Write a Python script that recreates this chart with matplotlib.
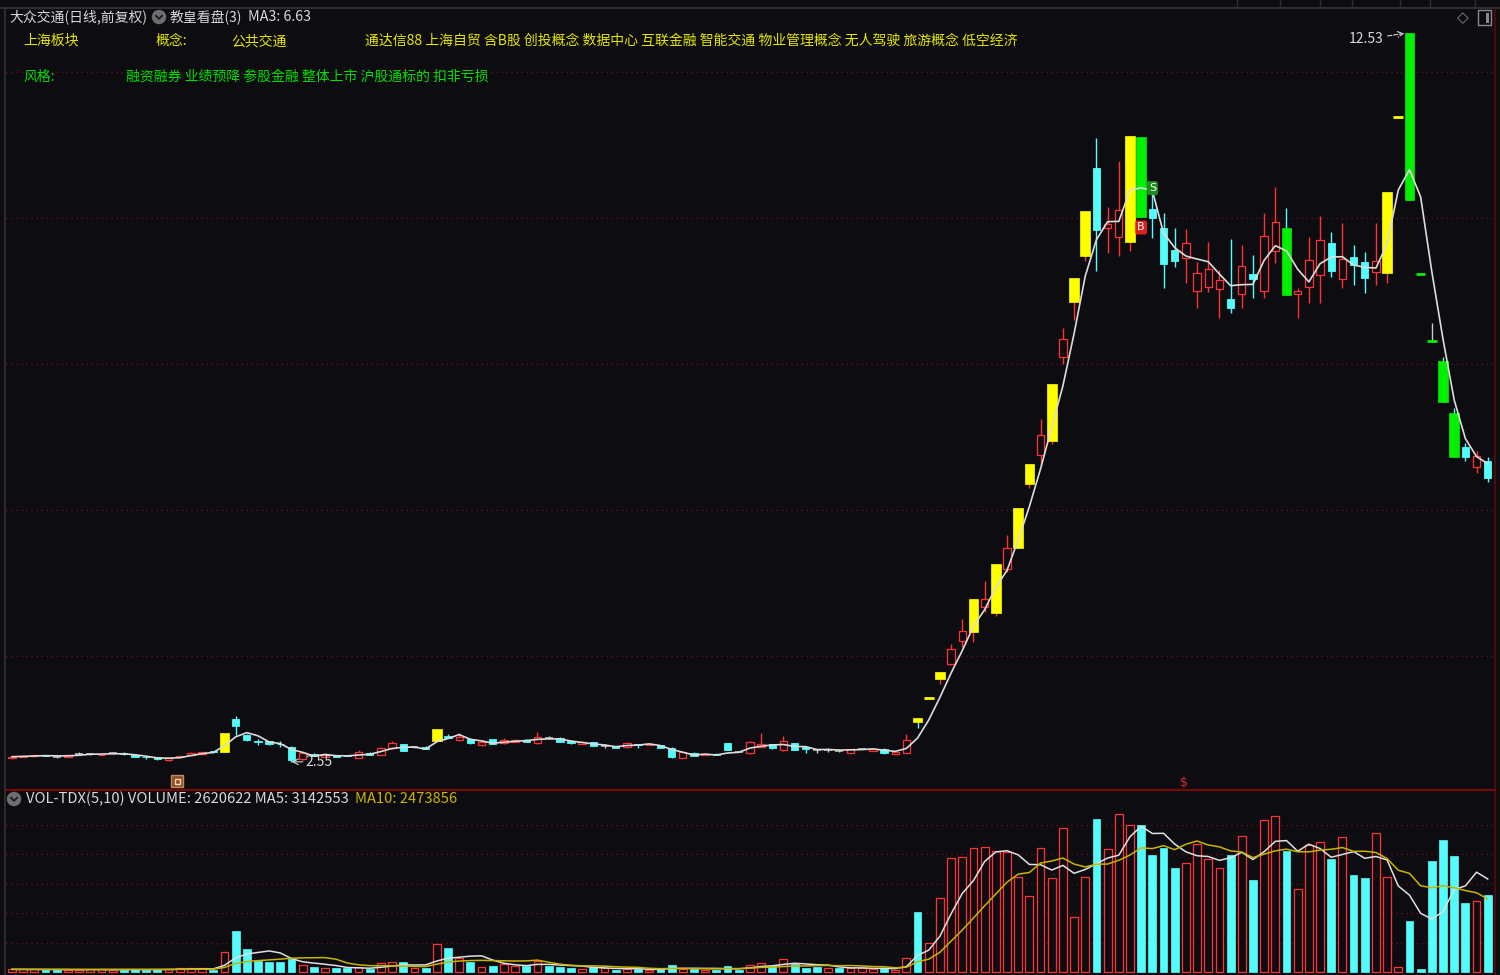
import numpy as np
import pandas as pd
import matplotlib
matplotlib.use('Agg')
import matplotlib.pyplot as plt
from matplotlib.patches import Rectangle, Circle, FancyBboxPatch

plt.rcParams['font.family'] = ['Noto Sans CJK SC', 'DejaVu Sans']

# ---- data (daily bars, oldest first) ----
opens = [
    2.60, 2.61, 2.63, 2.645, 2.62, 2.62, 2.66, 2.66, 2.64, 2.67,
    2.67, 2.64, 2.62, 2.61, 2.57, 2.61, 2.64, 2.66, 2.70, 2.68,
    3.13, 2.92, 2.83, 2.835, 2.80, 2.757, 2.585, 2.66, 2.62, 2.645,
    2.64, 2.607, 2.67, 2.644, 2.736, 2.79, 2.75, 2.753, 2.835, 2.908,
    2.845, 2.859, 2.78, 2.859, 2.808, 2.82, 2.849, 2.808, 2.873, 2.88,
    2.84, 2.795, 2.817, 2.763, 2.763, 2.749, 2.79, 2.78, 2.78, 2.744,
    2.607, 2.675, 2.644, 2.66, 2.804, 2.685, 2.67, 2.753, 2.79, 2.708,
    2.804, 2.753, 2.716, 2.716, 2.70, 2.671, 2.726, 2.703, 2.73, 2.66,
    2.67, 3.15, 3.42, 3.69, 3.89, 4.205, 4.33, 4.67, 4.59, 5.19,
    5.48, 6.36, 6.75, 6.95, 8.096, 8.849, 9.479, 10.685, 9.863, 9.739,
    9.671, 11.11, 10.123, 9.863, 9.561, 9.452, 9.0, 9.054, 9.027, 8.89,
    8.959, 9.233, 9.0, 9.548, 9.863, 8.959, 9.054, 9.219, 9.657, 9.164,
    9.465, 9.397, 9.26, 9.246, 11.39, 12.53, 9.23, 8.31, 8.04, 7.33,
    6.863, 6.589, 6.671]
highs = [
    2.62, 2.63, 2.64, 2.65, 2.64, 2.64, 2.68, 2.67, 2.65, 2.68,
    2.69, 2.65, 2.63, 2.61, 2.60, 2.63, 2.68, 2.69, 2.70, 2.95,
    3.18, 2.93, 2.86, 2.84, 2.83, 2.76, 2.68, 2.67, 2.65, 2.65,
    2.645, 2.716, 2.68, 2.75, 2.835, 2.80, 2.76, 2.76, 3.00, 2.93,
    2.945, 2.87, 2.82, 2.86, 2.872, 2.86, 2.86, 2.954, 2.908, 2.89,
    2.85, 2.82, 2.82, 2.79, 2.77, 2.82, 2.80, 2.80, 2.785, 2.75,
    2.69, 2.68, 2.66, 2.665, 2.81, 2.69, 2.83, 2.94, 2.80, 2.908,
    2.81, 2.76, 2.73, 2.735, 2.71, 2.73, 2.74, 2.74, 2.735, 2.685,
    2.927, 3.15, 3.42, 3.78, 4.164, 4.507, 4.78, 5.03, 5.26, 5.66,
    6.03, 6.63, 7.25, 7.73, 8.493, 9.178, 10.096, 11.096, 10.15, 10.78,
    11.12, 11.11, 10.33, 10.068, 9.86, 9.849, 9.397, 9.671, 9.287, 9.712,
    9.63, 9.493, 10.068, 10.424, 10.137, 9.04, 9.739, 10.027, 9.808, 9.931,
    9.63, 9.534, 9.931, 10.35, 11.39, 12.53, 9.23, 8.56, 8.09, 7.40,
    6.92, 6.81, 6.73]
lows = [
    2.59, 2.61, 2.62, 2.63, 2.60, 2.62, 2.65, 2.65, 2.64, 2.66,
    2.64, 2.61, 2.59, 2.58, 2.56, 2.60, 2.64, 2.65, 2.67, 2.68,
    2.92, 2.84, 2.78, 2.78, 2.75, 2.55, 2.58, 2.63, 2.61, 2.61,
    2.625, 2.60, 2.64, 2.64, 2.73, 2.70, 2.74, 2.72, 2.83, 2.87,
    2.84, 2.80, 2.77, 2.79, 2.80, 2.815, 2.82, 2.80, 2.86, 2.82,
    2.80, 2.79, 2.76, 2.745, 2.74, 2.745, 2.74, 2.775, 2.74, 2.607,
    2.60, 2.625, 2.64, 2.64, 2.71, 2.68, 2.66, 2.75, 2.73, 2.70,
    2.71, 2.67, 2.675, 2.69, 2.69, 2.665, 2.72, 2.70, 2.66, 2.655,
    2.665, 3.02, 3.42, 3.62, 3.88, 4.123, 4.19, 4.60, 4.55, 5.15,
    5.48, 6.30, 6.60, 6.90, 8.0, 8.60, 9.41, 9.274, 9.52, 9.48,
    9.55, 10.01, 9.726, 9.041, 9.328, 9.109, 8.767, 8.986, 8.63, 8.698,
    8.767, 8.904, 8.904, 9.383, 8.95, 8.63, 8.835, 8.84, 9.191, 9.04,
    9.082, 8.972, 9.082, 9.109, 11.39, 10.25, 9.23, 8.31, 7.48, 6.73,
    6.67, 6.51, 6.38]
closes = [
    2.62, 2.63, 2.64, 2.635, 2.62, 2.64, 2.66, 2.66, 2.65, 2.67,
    2.66, 2.61, 2.61, 2.59, 2.60, 2.63, 2.675, 2.68, 2.68, 2.95,
    3.045, 2.855, 2.82, 2.79, 2.79, 2.575, 2.675, 2.635, 2.645, 2.62,
    2.63, 2.68, 2.65, 2.744, 2.804, 2.70, 2.75, 2.726, 3.00, 2.88,
    2.89, 2.804, 2.817, 2.795, 2.845, 2.853, 2.826, 2.894, 2.873, 2.826,
    2.804, 2.817, 2.763, 2.763, 2.745, 2.812, 2.78, 2.795, 2.744, 2.62,
    2.68, 2.63, 2.657, 2.644, 2.712, 2.685, 2.817, 2.79, 2.736, 2.835,
    2.712, 2.726, 2.716, 2.716, 2.70, 2.726, 2.726, 2.73, 2.67, 2.68,
    2.849, 3.10, 3.42, 3.78, 4.10, 4.342, 4.78, 4.78, 5.26, 5.479,
    6.03, 6.63, 7.03, 7.73, 8.342, 9.178, 10.096, 9.835, 9.918, 10.11,
    11.12, 10.01, 10.0, 9.37, 9.411, 9.657, 9.246, 9.301, 9.15, 8.767,
    9.342, 9.164, 9.753, 9.945, 8.95, 9.0, 9.424, 9.698, 9.274, 9.438,
    9.356, 9.178, 9.41, 10.35, 11.39, 10.25, 9.23, 8.31, 7.48, 6.73,
    6.726, 6.739, 6.438]
# volume in millions of lots
volume_m = [
    0.09, 0.09, 0.09, 0.08, 0.08, 0.08, 0.08, 0.09, 0.09, 0.08,
    0.08, 0.09, 0.08, 0.09, 0.09, 0.12, 0.12, 0.12, 0.08, 0.68,
    1.40, 0.78, 0.38, 0.33, 0.34, 0.45, 0.23, 0.16, 0.13, 0.12,
    0.12, 0.18, 0.09, 0.29, 0.33, 0.33, 0.14, 0.12, 0.94, 0.82,
    0.48, 0.33, 0.17, 0.22, 0.28, 0.22, 0.19, 0.38, 0.22, 0.17,
    0.12, 0.11, 0.17, 0.12, 0.08, 0.09, 0.10, 0.08, 0.09, 0.25,
    0.10, 0.10, 0.08, 0.08, 0.20, 0.08, 0.25, 0.32, 0.20, 0.43,
    0.28, 0.14, 0.18, 0.14, 0.12, 0.12, 0.14, 0.10, 0.14, 0.07,
    0.46, 2.04, 1.00, 2.50, 3.87, 3.91, 4.21, 4.25, 4.11, 4.08,
    3.21, 2.58, 4.21, 3.20, 4.87, 1.87, 3.23, 5.19, 4.16, 5.35,
    5.00, 5.00, 3.97, 4.19, 3.52, 3.69, 4.34, 3.83, 3.54, 3.97,
    4.61, 3.12, 5.15, 5.30, 4.10, 2.80, 4.31, 4.42, 3.82, 4.57,
    3.29, 3.18, 4.72, 3.23, 0.16, 1.74, 0.09, 3.77, 4.47, 3.93,
    2.33, 2.42, 2.62]
# bars painted by the indicator (limit-up yellow / limit-down green)
limit_up_days = [19, 38, 81, 82, 83, 86, 88, 90, 91, 93, 95, 96, 100, 123, 124]
limit_down_days = [101, 114, 125, 126, 127, 128, 129]

# header readouts as printed on the chart
last_volume = 2620622
last_ma5 = 3142553
last_ma10 = 2473856
last_ma3 = 6.63

concepts = '通达信88 上海自贸 含B股 创投概念 数据中心 互联金融 智能交通 物业管理概念 无人驾驶 旅游概念 低空经济'
styles = '融资融券 业绩预降 参股金融 整体上市 沪股通标的 扣非亏损'

# ---- colours ----
BG = '#0d0d11'
RED = '#ff3232'
CYAN = '#54fcfc'
YELLOW = '#ffff00'
GREEN = '#00f000'
GREY = '#c8c8c8'
TXT = '#d8d8d8'
CONCEPT_Y = '#e6e600'
STYLE_G = '#00e000'
GRID = '#6a1414'

W, H = 1500, 975
o = np.array(opens); h = np.array(highs); l = np.array(lows); c = np.array(closes)
vol = np.array(volume_m) * 1e6
n = len(c)
assert len(o) == len(h) == len(l) == n == len(vol)
x = np.arange(n)
prev_c = np.r_[c[0], c[:-1]]

fig = plt.figure(figsize=(W / 100, H / 100), dpi=100, facecolor=BG)

# price panel spans pixel rows 8..790, volume panel 790..975
ax = fig.add_axes([6 / W, (H - 790) / H, 1489 / W, 782 / H], facecolor=BG)
axv = fig.add_axes([6 / W, 0, 1489 / W, 185 / H], facecolor=BG)
for a in (ax, axv):
    a.set_xlim(-0.537, 132.65)
    a.set_xticks([]); a.set_yticks([])
    for s in a.spines.values():
        s.set_visible(False)
ax.set_ylim(2.164, 12.877)
axv.set_ylim(-0.1017e6, 6.17e6)

for p in [4, 6, 8, 10, 12]:
    ax.axhline(p, color=GRID, lw=0.9, ls=(0, (1, 3)), zorder=0)
for v in [1, 2, 3, 4, 5]:
    axv.axhline(v * 1e6, color=GRID, lw=0.9, ls=(0, (1, 3)), zorder=0)

# ---- candles ----
special_up = np.isin(x, limit_up_days)
special_dn = np.isin(x, limit_down_days)
special = special_up | special_dn
rising = c > o
falling = c < o
flat = c == o

wick_col = np.where(rising, RED, np.where(falling, CYAN, GREY))
ax.vlines(x, l, h, colors=list(wick_col), lw=1, zorder=2)

m = rising & ~special
ax.bar(x[m], (c - o)[m], bottom=o[m], width=0.66, facecolor=BG, edgecolor=RED, lw=0.9, zorder=3)
m = falling & ~special
ax.bar(x[m], (o - c)[m], bottom=c[m], width=0.66, facecolor=CYAN, edgecolor=CYAN, lw=0.6, zorder=3)
m = flat & ~special
ax.hlines(c[m], x[m] - 0.36, x[m] + 0.36, colors=GREY, lw=1.1, zorder=3)

for mask, col in [(special_up, YELLOW), (special_dn, GREEN)]:
    mb = mask & ~flat
    lo = np.minimum(o, c)
    ax.bar(x[mb], np.abs(c - o)[mb], bottom=lo[mb], width=0.86, facecolor=col,
           edgecolor=col, lw=0.5, zorder=3)
    mf = mask & flat
    ax.hlines(c[mf], x[mf] - 0.43, x[mf] + 0.43, colors=col, lw=2, zorder=3)

ma3 = pd.Series(c).rolling(3, min_periods=1).mean()
ax.plot(x, ma3, color='#dcdcdc', lw=1.2, zorder=4)

# markers on the price panel
ax.text(101, l[101] - 0.14, 'B', color='white', fontsize=8, ha='center', va='center', zorder=6,
        fontfamily='DejaVu Sans',
        bbox=dict(boxstyle='round,pad=0.18', fc='#e01e1e', ec='none'))
ax.text(102, h[102] + 0.08, 'S', color='white', fontsize=8, ha='center', va='center', zorder=6,
        fontfamily='DejaVu Sans',
        bbox=dict(boxstyle='round,pad=0.18', fc='#1e8a1e', ec='none'))
top_i = int(np.argmax(h))
ax.annotate(f'{h[top_i]:.2f}', xy=(top_i - 0.45, h[top_i]), xytext=(-21, -6),
            textcoords='offset pixels', ha='right', va='center', color=TXT, fontsize=10,
            arrowprops=dict(arrowstyle='->', color=TXT, lw=0.8, ls='--', shrinkA=1, shrinkB=0),
            zorder=6)
low_i = int(np.argmin(l))
ax.annotate(f'{l[low_i]:.2f}', xy=(low_i, l[low_i]), xytext=(14, 0),
            textcoords='offset pixels', ha='left', va='center', color=TXT, fontsize=10,
            arrowprops=dict(arrowstyle='->', color=TXT, lw=0.8, shrinkA=0, shrinkB=0),
            zorder=6)

# ---- volume ----
vol_up = rising | (flat & (c >= prev_c))
mv = vol_up
axv.bar(x[mv], vol[mv], width=0.7, facecolor=BG, edgecolor=RED, lw=0.9, zorder=2)
axv.bar(x[~mv], vol[~mv], width=0.7, facecolor=CYAN, edgecolor=CYAN, lw=0.5, zorder=2)
ma5 = pd.Series(vol).rolling(5, min_periods=1).mean()
ma10 = pd.Series(vol).rolling(10, min_periods=1).mean()
axv.plot(x, ma5, color='#e0e0e0', lw=1.1, zorder=3)
axv.plot(x, ma10, color='#c8b400', lw=1.1, zorder=3)

# ---- overlay in pixel coordinates for frame, texts and icons ----
ov = fig.add_axes([0, 0, 1, 1], facecolor='none')
ov.set_xlim(0, W); ov.set_ylim(H, 0); ov.axis('off')

ov.plot([0, W], [7.5, 7.5], color='#2e2e2e', lw=1.5)
ov.plot([5, 5], [8, H], color='#333333', lw=1.2)
ov.plot([1495, 1495], [8, H], color='#5a0a0a', lw=1.2)
ov.plot([6, 1495], [790, 790], color='#7a0a0a', lw=1.5)
for sx in [1237, 1280, 1320, 1352, 1400, 1430, 1475]:
    ov.plot([sx, sx], [0, 7], color='#2e2e2e', lw=1)

def circle_icon(cx, cy):
    ov.add_patch(Circle((cx, cy), 6.5, color='#6e6e6e', zorder=5))
    ov.plot([cx - 3, cx, cx + 3], [cy - 1.2, cy + 1.8, cy - 1.2], color='#1a1a1a', lw=1.3, zorder=6)

ov.text(9, 17, '大众交通(日线,前复权)', color=TXT, fontsize=10, va='center')
circle_icon(159, 17)
ov.text(170, 17, '教皇看盘(3)', color=TXT, fontsize=10, va='center')
ov.text(248, 17, f'MA3: {last_ma3:.2f}', color=TXT, fontsize=10.3, va='center')

ov.text(23, 41, '上海板块', color=CONCEPT_Y, fontsize=10, va='center')
ov.text(156, 41, '概念:', color=CONCEPT_Y, fontsize=10, va='center')
ov.text(231, 41, '公共交通', color=CONCEPT_Y, fontsize=10, va='center')
ov.text(365, 41, concepts, color=CONCEPT_Y, fontsize=10, va='center')
ov.text(23, 77, '风格:', color=STYLE_G, fontsize=10, va='center')
ov.text(126, 77, styles, color=STYLE_G, fontsize=10, va='center')

circle_icon(14, 799)
ov.text(26, 799, f'VOL-TDX(5,10) VOLUME: {last_volume} MA5: {last_ma5}',
        color=TXT, fontsize=10.6, va='center')
ov.text(355, 799, f'MA10: {last_ma10}', color='#c8b400', fontsize=10.6, va='center')

# top right widgets
ov.text(1463, 18, '◇', color='#8a8a8a', fontsize=11, ha='center', va='center', fontfamily='DejaVu Sans')
ov.add_patch(FancyBboxPatch((1479, 11), 12, 14, boxstyle='round,pad=0.5', fc='none', ec='#8a8a8a', lw=1))
ov.add_patch(Rectangle((1486, 13), 3, 10, fc='#8a8a8a', ec='none'))

# small icons on the lower edge of the price panel
ov.add_patch(Rectangle((171, 775), 12, 12, fc='#8a4f22', ec='#c8875a', lw=1))
ov.add_patch(Rectangle((174.5, 778.5), 5, 5, fc='none', ec='#f4dcc4', lw=1))
ov.text(1184, 783, '$', color='#e02828', fontsize=9, ha='center', va='center', fontfamily='DejaVu Sans')

fig.savefig('out.png', dpi=100, facecolor=BG)
